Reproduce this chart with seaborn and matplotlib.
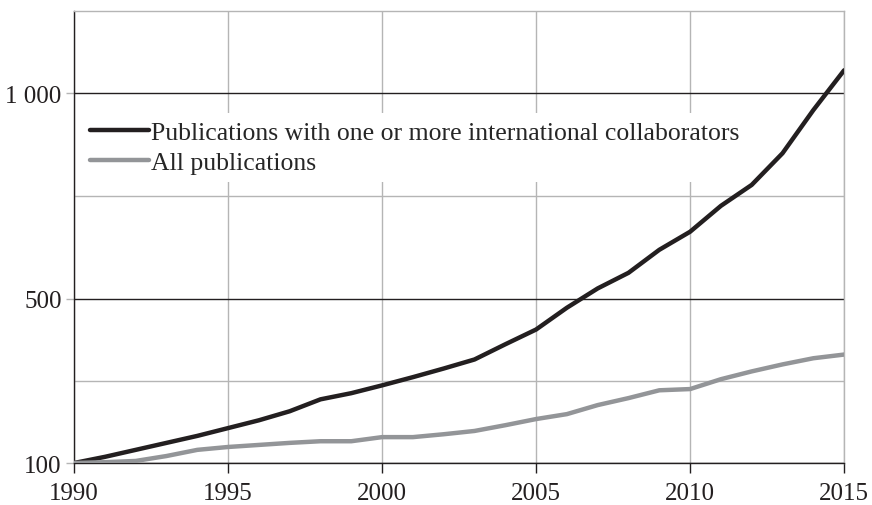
import pandas as pd
import numpy as np
import matplotlib.pyplot as plt
import seaborn as sns
from matplotlib.ticker import FixedLocator

# --- 1. DATA ---
years = list(range(1990, 2016))
intl_collab = [100, 115, 132, 149, 166, 185, 204, 226, 255, 270, 289, 309, 330,
               352, 389, 425, 478, 525, 563, 619, 663, 726, 777, 854, 959, 1056]
all_pubs = [100, 102, 105, 117, 132, 139, 144, 149, 153, 153, 163, 163, 170,
            178, 192, 207, 219, 241, 258, 277, 280, 304, 323, 340, 355, 364]

series_names = ['Publications with one or more international collaborators', 'All publications']
y_major = [100, 500, 1000]
y_major_labels = ['100', '500', '1 000']
y_minor = [300, 750]
x_ticks = [1990, 1995, 2000, 2005, 2010, 2015]

df = pd.DataFrame({
    'year': years * 2,
    'value': intl_collab + all_pubs,
    'series': [series_names[0]] * len(years) + [series_names[1]] * len(years),
})

# --- 2. STYLE ---
sns.set_style('white')
plt.rcParams['font.family'] = ['Liberation Serif', 'DejaVu Serif']

fig, ax = plt.subplots(figsize=(8.72, 5.06), dpi=100)
fig.subplots_adjust(left=0.085, right=0.968, top=0.976, bottom=0.083)

# --- 3. LINES ---
sns.lineplot(data=df, x='year', y='value', hue='series', ax=ax,
             palette={series_names[0]: '#231f20', series_names[1]: '#939598'},
             linewidth=3.2, zorder=3)

# --- 4. AXES ---
ax.set_xlim(1990, 2015)
ax.set_ylim(100, 1200)
ax.set_xticks(x_ticks)
ax.set_xticklabels([str(t) for t in x_ticks], fontsize=18, color='#231f20')
ax.set_yticks(y_major)
ax.set_yticklabels(y_major_labels, fontsize=18, color='#231f20')
ax.yaxis.set_minor_locator(FixedLocator(y_minor))
ax.set_xlabel('')
ax.set_ylabel('')

ax.grid(axis='x', which='major', color='#b5b5b5', linewidth=1.0, zorder=0)
ax.grid(axis='y', which='major', color='#231f20', linewidth=1.0, zorder=1)
ax.grid(axis='y', which='minor', color='#b5b5b5', linewidth=1.0, zorder=0)

ax.tick_params(axis='x', which='major', direction='out', length=7, width=1,
               color='#231f20', pad=7, bottom=True)
ax.tick_params(axis='y', which='major', direction='out', length=6, width=1,
               color='#b5b5b5', pad=3, left=True)
ax.tick_params(axis='y', which='minor', left=False)

ax.spines['left'].set_color('#231f20')
ax.spines['bottom'].set_color('#231f20')
ax.spines['top'].set_color('#b5b5b5')
ax.spines['right'].set_color('#b5b5b5')
for s in ax.spines.values():
    s.set_linewidth(1.0)
    s.set_zorder(2)

# --- 5. LEGEND ---
leg = ax.legend(loc='center left', bbox_to_anchor=(0.011, 0.698), fontsize=18.5,
                frameon=True, framealpha=1.0, edgecolor='none', facecolor='white',
                handlelength=2.3, handletextpad=0.08, labelspacing=0.3,
                borderpad=0.3, borderaxespad=0)
for line in leg.get_lines():
    line.set_linewidth(3.2)
leg.set_zorder(4)

plt.savefig('out.png', dpi=100)
